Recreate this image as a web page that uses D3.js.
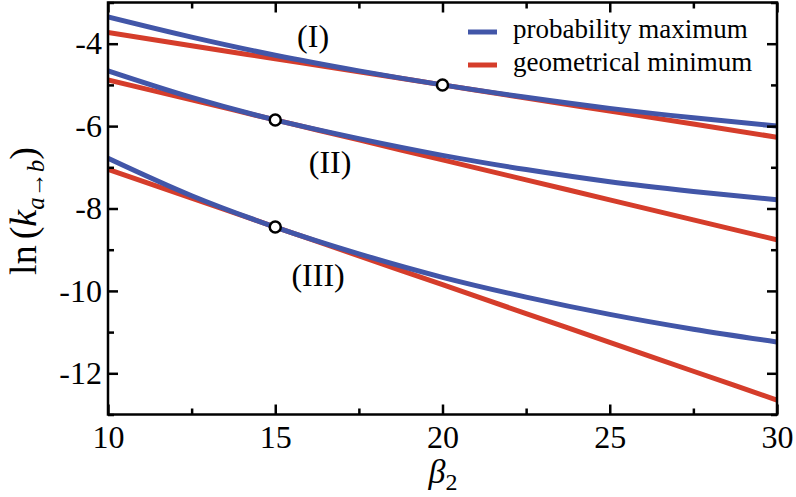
<!DOCTYPE html>
<html>
<head>
<meta charset="utf-8">
<script src="https://cdn.jsdelivr.net/npm/d3@7"></script>
<style>
  body { margin: 0; background: #fff; }
  text { font-family: "Liberation Serif", "Times New Roman", serif; fill: #000; }
</style>
</head>
<body>
<svg id="chart" width="796" height="497"></svg>
<script>
// beta_2 sample points
var beta = [10, 12.5, 15, 17.5, 20, 22.5, 25, 27.5, 30];

// ln(k) along the probability maximum path (blue)
var probMaxI   = [-3.35, -3.84, -4.28, -4.66, -5.00, -5.30, -5.57, -5.80, -6.00];
var probMaxII  = [-4.66, -5.305, -5.85, -6.305, -6.71, -7.055, -7.35, -7.585, -7.79];
var probMaxIII = [-6.78, -7.69, -8.45, -9.10, -9.67, -10.15, -10.57, -10.93, -11.24];

// ln(k) along the geometrical minimum path (red)
var geoMinI   = [-3.73, -4.05, -4.365, -4.68, -5.00, -5.32, -5.635, -5.95, -6.27];
var geoMinII  = [-4.88, -5.365, -5.85, -6.335, -6.82, -7.305, -7.79, -8.275, -8.76];
var geoMinIII = [-7.05, -7.75, -8.45, -9.15, -9.85, -10.55, -11.25, -11.95, -12.65];

// touching points (open circles)
var touchBeta = [20, 15, 15];
var touchLnk  = [-5.00, -5.85, -8.45];

var caseNames = ["(I)", "(II)", "(III)"];
var legendNames = ["probability maximum", "geometrical minimum"];

var xTicks = [10, 15, 20, 25, 30];
var xMinor = [12.5, 17.5, 22.5, 27.5];
var yTicks = [-4, -6, -8, -10, -12];
var yMinor = [-3, -5, -7, -9, -11, -13];

var blue = "#4256a8", red = "#d53d2b";

var svg = d3.select("#chart");
var x = d3.scaleLinear().domain([10, 30]).range([108, 777]);
var y = d3.scaleLinear().domain([-13, -3]).range([414.5, 2.5]);

function toPoints(vals) {
  return beta.map(function(b, i) { return [b, vals[i]]; });
}

var line = d3.line()
  .x(function(d) { return x(d[0]); })
  .y(function(d) { return y(d[1]); })
  .curve(d3.curveMonotoneX);

var plot = svg.append("g");
plot.append("clipPath").attr("id", "clip")
  .append("rect").attr("x", 108).attr("y", 2.5).attr("width", 669).attr("height", 412);

var curves = plot.append("g").attr("clip-path", "url(#clip)");
[geoMinI, geoMinII, geoMinIII].forEach(function(v) {
  curves.append("path").attr("d", line(toPoints(v)))
    .attr("fill", "none").attr("stroke", red).attr("stroke-width", 5);
});
[probMaxI, probMaxII, probMaxIII].forEach(function(v) {
  curves.append("path").attr("d", line(toPoints(v)))
    .attr("fill", "none").attr("stroke", blue).attr("stroke-width", 5);
});

plot.selectAll(".touch").data(touchBeta).enter().append("circle")
  .attr("cx", function(d) { return x(d); })
  .attr("cy", function(d, i) { return y(touchLnk[i]); })
  .attr("r", 5.5)
  .attr("fill", "#fff").attr("stroke", "#000").attr("stroke-width", 2.5);

// case labels
var labelPos = [[16.13, -4.08], [16.64, -7.14], [16.28, -9.88]];
plot.selectAll(".case").data(caseNames).enter().append("text")
  .attr("x", function(d, i) { return x(labelPos[i][0]); })
  .attr("y", function(d, i) { return y(labelPos[i][1]); })
  .attr("text-anchor", "middle")
  .style("font-size", "32px")
  .text(function(d) { return d; });

// axes, ticks pointing inward
function styleAxis(g) {
  g.select(".domain").remove();
  g.selectAll(".tick line").attr("stroke", "#000").attr("stroke-width", 2.5);
  g.selectAll(".tick text").style("font-size", "32px")
    .style("font-family", "'Liberation Serif', 'Times New Roman', serif");
}

svg.append("g").attr("transform", "translate(0,414.5)")
  .call(d3.axisBottom(x).tickValues(xTicks).tickSize(-10).tickPadding(11).tickFormat(d3.format("d")))
  .call(styleAxis);
svg.append("g").attr("transform", "translate(0,414.5)")
  .call(d3.axisBottom(x).tickValues(xMinor).tickSize(-6).tickFormat(""))
  .call(styleAxis);
svg.append("g").attr("transform", "translate(0,2.5)")
  .call(d3.axisTop(x).tickValues(xTicks).tickSize(-10).tickFormat(""))
  .call(styleAxis);
svg.append("g").attr("transform", "translate(0,2.5)")
  .call(d3.axisTop(x).tickValues(xMinor).tickSize(-6).tickFormat(""))
  .call(styleAxis);

svg.append("g").attr("transform", "translate(108,0)")
  .call(d3.axisLeft(y).tickValues(yTicks).tickSize(-10).tickPadding(6).tickFormat(d3.format("d")))
  .call(styleAxis);
svg.append("g").attr("transform", "translate(108,0)")
  .call(d3.axisLeft(y).tickValues(yMinor).tickSize(-6).tickFormat(""))
  .call(styleAxis);
svg.append("g").attr("transform", "translate(777,0)")
  .call(d3.axisRight(y).tickValues(yTicks).tickSize(-10).tickFormat(""))
  .call(styleAxis);
svg.append("g").attr("transform", "translate(777,0)")
  .call(d3.axisRight(y).tickValues(yMinor).tickSize(-6).tickFormat(""))
  .call(styleAxis);

// minus signs as in the figure (hyphen)
svg.selectAll(".tick text").text(function() { return d3.select(this).text().replace("\u2212", "-"); });

svg.append("rect").attr("x", 108).attr("y", 2.5).attr("width", 669).attr("height", 412)
  .attr("fill", "none").attr("stroke", "#000").attr("stroke-width", 2.5);

// legend
var legend = svg.append("g");
var legendColors = [blue, red];
legendNames.forEach(function(name, i) {
  var ly = 32 + i * 33;
  legend.append("line").attr("x1", 468).attr("x2", 497).attr("y1", ly).attr("y2", ly)
    .attr("stroke", legendColors[i]).attr("stroke-width", 5);
  legend.append("text").attr("x", 513).attr("y", ly + 6)
    .style("font-size", "27px").text(name);
});

// axis titles
var xt = svg.append("text").attr("x", 443).attr("y", 483).attr("text-anchor", "middle")
  .style("font-size", "34px");
xt.append("tspan").style("font-style", "italic").text("\u03b2");
xt.append("tspan").attr("dy", 7).style("font-size", "24px").text("2");

var yt = svg.append("text").attr("transform", "translate(36,211) rotate(-90)")
  .attr("text-anchor", "middle").style("font-size", "38px");
yt.append("tspan").text("ln");
yt.append("tspan").attr("dx", 6).text("(");
yt.append("tspan").style("font-style", "italic").text("k");
yt.append("tspan").attr("dy", 8).style("font-size", "25px").style("font-style", "italic").text("a");
yt.append("tspan").style("font-size", "25px").text("\u2192");
yt.append("tspan").style("font-size", "25px").style("font-style", "italic").text("b");
yt.append("tspan").attr("dy", -8).text(")");
</script>
</body>
</html>
